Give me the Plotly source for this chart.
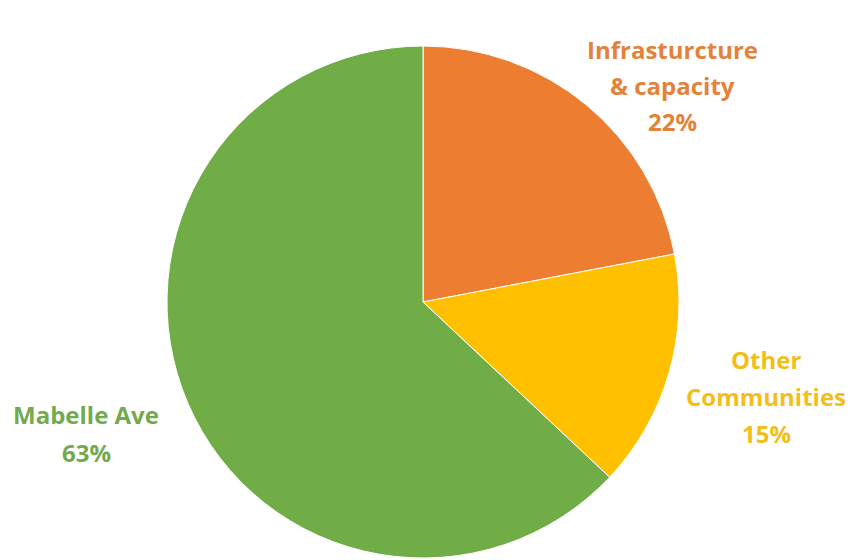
import plotly.graph_objects as go

categories = ["Infrasturcture<br>& capacity", "Other<br>Communities", "Mabelle Ave"]
values = [22, 15, 63]
colors = ["#ED7D31", "#FFC000", "#70AD47"]
text_colors = ["#E4823A", "#F2BE1A", "#74AA4E"]

W, H = 851, 560
cx, cy, r = 423, 302, 256

fig = go.Figure(go.Pie(
    labels=categories,
    values=values,
    sort=False,
    direction="clockwise",
    rotation=0,
    marker=dict(colors=colors, line=dict(color="white", width=1)),
    textinfo="none",
    hoverinfo="label+percent",
    showlegend=False,
    domain=dict(x=[(cx - r) / W, (cx + r) / W], y=[1 - (cy + r) / H, 1 - (cy - r) / H]),
))

# label anchor positions (pixel centers of each label block's first line)
label_pos = [(672, 49), (766, 359), (86, 414)]
line_gaps = [36, 37, 38]

annotations = []
for cat, val, col, (lx, ly), gap in zip(categories, values, text_colors, label_pos, line_gaps):
    lines = cat.split("<br>") + [f"{val}%"]
    for i, ln in enumerate(lines):
        annotations.append(dict(
            x=lx / W, y=1 - (ly + i * gap) / H, xref="paper", yref="paper",
            text=ln, showarrow=False, xanchor="center", yanchor="middle",
            font=dict(family="Open Sans", size=24, color=col, weight="bold"),
        ))

fig.update_layout(
    width=W, height=H,
    margin=dict(l=0, r=0, t=0, b=0),
    paper_bgcolor="white", plot_bgcolor="white",
    annotations=annotations,
)

fig.write_html("out.html")
